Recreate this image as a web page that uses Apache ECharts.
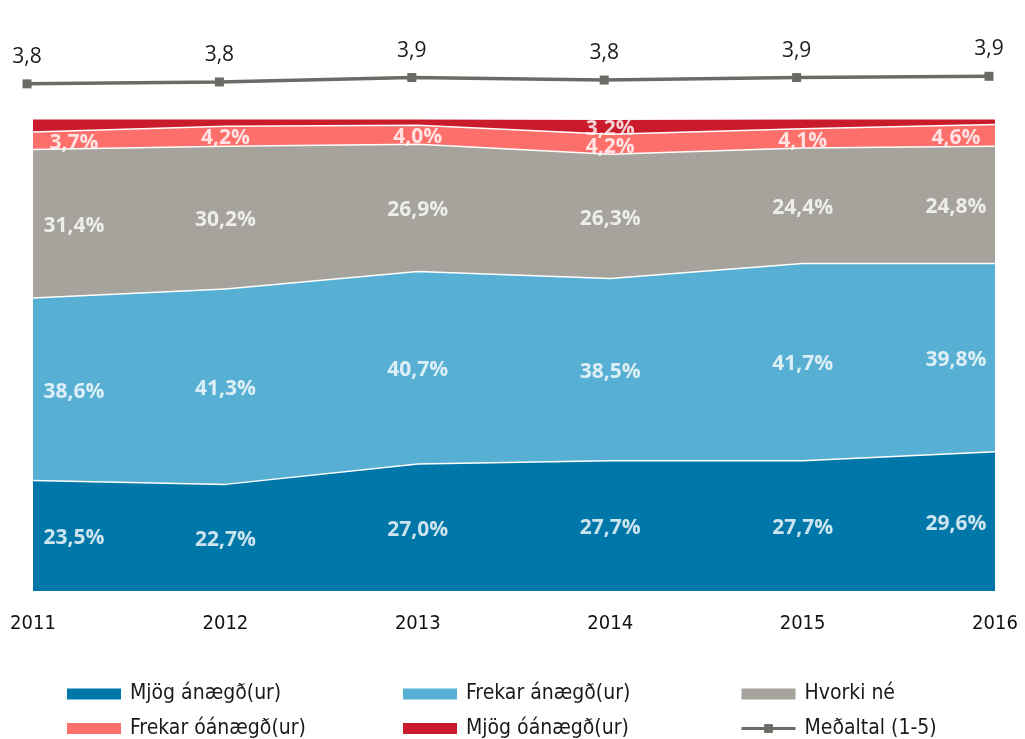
<!DOCTYPE html>
<html>
<head>
<meta charset="utf-8">
<script src="https://cdn.jsdelivr.net/npm/echarts@6/dist/echarts.min.js"></script>
<style>
  html, body { margin: 0; padding: 0; background: #ffffff; }
  #chart { width: 1025px; height: 739px; }
</style>
</head>
<body>
<div id="chart"></div>
<script>
// Ánægja eftir árum, hlutfall svara (%)
const years = ['2011', '2012', '2013', '2014', '2015', '2016'];
const mjogAnaegd    = [23.5, 22.7, 27.0, 27.7, 27.7, 29.6];
const frekarAnaegd  = [38.6, 41.3, 40.7, 38.5, 41.7, 39.8];
const hvorkiNe      = [31.4, 30.2, 26.9, 26.3, 24.4, 24.8];
const frekarOanaegd = [3.7, 4.2, 4.0, 4.2, 4.1, 4.6];
const mjogOanaegd   = [2.8, 1.6, 1.4, 3.2, 2.1, 1.2];
// Meðaltal á kvarðanum 1-5
const medaltal = [3.78, 3.81, 3.88, 3.84, 3.88, 3.90];
// Hvaða gildi í efsta bandinu fá merkimiða
const mjogOanaegdLabelShown = [false, false, false, true, false, false];

const bandNames = ['Mjög ánægð(ur)', 'Frekar ánægð(ur)', 'Hvorki né', 'Frekar óánægð(ur)', 'Mjög óánægð(ur)'];
const bandValues = [mjogAnaegd, frekarAnaegd, hvorkiNe, frekarOanaegd, mjogOanaegd];
const bandColors = ['#0077a9', '#57b0d3', '#a6a39d', '#fc6f6b', '#c91b2b'];
const lineName = 'Meðaltal (1-5)';
const lineColor = '#6b6b65';

const condensed = '"DejaVu Sans Condensed", "Liberation Sans Narrow", "Noto Sans", sans-serif';
const fmt = v => v.toFixed(1).replace('.', ',');

// Stacked area bands
const areaSeries = bandNames.map((name, b) => ({
  name: name,
  type: 'line',
  stack: 'total',
  xAxisIndex: 0,
  yAxisIndex: 0,
  symbol: 'none',
  smooth: false,
  color: bandColors[b],
  lineStyle: { color: '#ffffff', width: 3 },
  areaStyle: { color: bandColors[b], opacity: 1 },
  emphasis: { disabled: true },
  silent: true,
  z: 2 + b,
  data: bandValues[b]
}));

// Percentage labels placed at the middle of each band
const labelPoints = [];
bandValues.forEach((vals, b) => {
  vals.forEach((v, i) => {
    if (b === 4 && !mjogOanaegdLabelShown[i]) return;
    let below = 0;
    for (let k = 0; k < b; k++) below += bandValues[k][i];
    labelPoints.push({
      value: [i, below + v / 2, v],
      label: { offset: [i === 0 ? 41 : (i === years.length - 1 ? -39 : 0), 3] }
    });
  });
});

const labelSeries = {
  type: 'scatter',
  xAxisIndex: 0,
  yAxisIndex: 0,
  symbolSize: 0,
  silent: true,
  z: 20,
  label: {
    show: true,
    position: 'inside',
    color: '#ffffff',
    fontFamily: '"Open Sans", sans-serif',
    fontWeight: 'bold',
    fontSize: 21,
    formatter: p => fmt(p.value[2]) + '%'
  },
  data: labelPoints
};

const lineSeries = {
  name: lineName,
  type: 'line',
  xAxisIndex: 1,
  yAxisIndex: 1,
  symbol: 'rect',
  symbolSize: 9,
  color: lineColor,
  lineStyle: { color: lineColor, width: 3.5 },
  itemStyle: { color: lineColor },
  emphasis: { disabled: true },
  silent: true,
  label: {
    show: true,
    position: 'top',
    distance: 12,
    color: '#1c1c1c',
    fontFamily: '"Open Sans", sans-serif',
    fontWeight: 500,
    fontSize: 21,
    formatter: p => fmt(p.value)
  },
  data: medaltal
};

const legendText = {
  fontFamily: condensed,
  fontSize: 21,
  lineHeight: 22,
  color: '#1a1a1a',
  padding: [0, 0, 0, 4]
};
const legendItem = (name, b) => ({ name: name, icon: 'rect', itemStyle: { color: bandColors[b], borderWidth: 0 } });
const legendBase = {
  orient: 'vertical',
  top: 683,
  height: 70,
  padding: 0,
  itemWidth: 54,
  itemHeight: 11,
  itemGap: 12.5,
  selectedMode: false,
  textStyle: legendText
};

const option = {
  animation: false,
  backgroundColor: '#ffffff',
  grid: [
    { left: 33, right: 30, top: 118, bottom: 148 },
    { left: 27, right: 36, top: 70, height: 63 }
  ],
  xAxis: [
    {
      type: 'category',
      gridIndex: 0,
      data: years,
      boundaryGap: false,
      axisLine: { show: false },
      axisTick: { show: false },
      axisLabel: { color: '#111111', fontFamily: condensed, fontSize: 20, margin: 23 }
    },
    {
      type: 'category',
      gridIndex: 1,
      data: years,
      boundaryGap: false,
      show: false
    }
  ],
  yAxis: [
    { type: 'value', gridIndex: 0, min: 0, max: 100, show: false },
    { type: 'value', gridIndex: 1, min: 3, max: 4, show: false }
  ],
  legend: [
    Object.assign({}, legendBase, { left: 67, data: [legendItem(bandNames[0], 0), legendItem(bandNames[3], 3)] }),
    Object.assign({}, legendBase, { left: 403, data: [legendItem(bandNames[1], 1), legendItem(bandNames[4], 4)] }),
    Object.assign({}, legendBase, { left: 740, data: [legendItem(bandNames[2], 2), { name: lineName, lineStyle: { width: 3 } }] })
  ],
  series: areaSeries.concat([labelSeries, lineSeries])
};

const chart = echarts.init(document.getElementById('chart'), null, { renderer: 'canvas' });
chart.setOption(option);
</script>
</body>
</html>
